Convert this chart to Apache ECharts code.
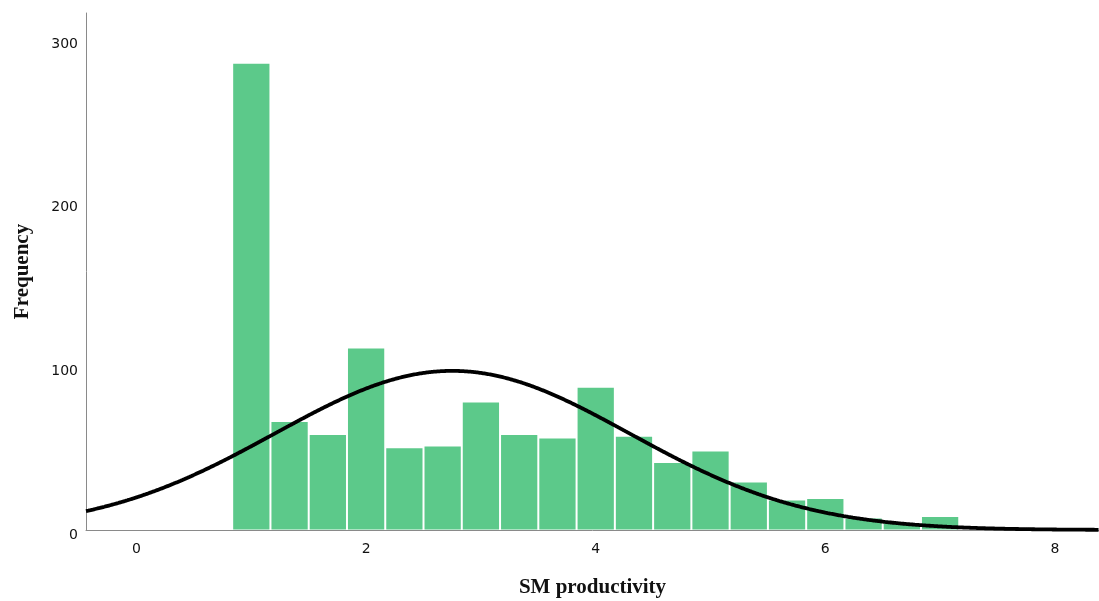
<!DOCTYPE html>
<html>
<head>
<meta charset="utf-8">
<title>SM productivity</title>
<script src="https://cdn.jsdelivr.net/npm/echarts@6/dist/echarts.min.js"></script>
<style>
  html, body { margin: 0; padding: 0; background: #ffffff; }
  #chart { width: 1099px; height: 601px; }
</style>
</head>
<body>
<div id="chart"></div>
<script>
// Histogram bins (bin centres) and their frequencies
const binCenters = [1, 4/3, 5/3, 2, 7/3, 8/3, 3, 10/3, 11/3, 4, 13/3, 14/3, 5, 16/3, 17/3, 6, 19/3, 20/3, 7];
const frequencies = [285, 66, 58, 111, 50, 51, 78, 58, 56, 87, 57, 41, 48, 29, 18, 19, 7, 4, 8];
const binWidth = 1 / 3;

// Fitted normal curve parameters
const curveMean = 2.75;
const curveSd = 1.545;
const sampleSize = 1130;

// Axis ticks
const xTicks = [0, 2, 4, 6, 8];
const yTicks = [0, 100, 200, 300];

const xMin = -0.44, xMax = 8.384;

const barData = binCenters.map((c, i) => [c - binWidth / 2, c + binWidth / 2, frequencies[i]]);

const curveData = [];
for (let x = xMin; x <= xMax + 1e-9; x += 0.02) {
  const z = (x - curveMean) / curveSd;
  const y = sampleSize * binWidth / (curveSd * Math.sqrt(2 * Math.PI)) * Math.exp(-0.5 * z * z);
  curveData.push([x, y]);
}

const chart = echarts.init(document.getElementById('chart'), null, { renderer: 'canvas' });

chart.setOption({
  animation: false,
  backgroundColor: '#ffffff',
  grid: { left: 86, right: 0, top: 13, bottom: 71, containLabel: false, outerBoundsMode: 'none' },
  xAxis: {
    type: 'value',
    min: xMin,
    max: xMax,
    name: 'SM productivity',
    nameLocation: 'middle',
    nameGap: 47,
    nameTextStyle: { fontFamily: 'Liberation Serif', fontWeight: 'bold', fontSize: 21, color: '#111' },
    axisLine: { show: true, onZero: false, lineStyle: { color: '#8a8a8a', width: 1 } },
    axisTick: { show: false },
    splitLine: { show: false },
    axisLabel: {
      customValues: xTicks,
      margin: 12,
      fontFamily: 'DejaVu Sans',
      fontSize: 14,
      color: '#111'
    }
  },
  yAxis: {
    type: 'value',
    min: 0,
    max: 316,
    interval: 100,
    name: 'Frequency',
    nameLocation: 'middle',
    nameGap: 53,
    nameRotate: 90,
    nameTextStyle: { fontFamily: 'Liberation Serif', fontWeight: 'bold', fontSize: 21, color: '#111' },
    axisLine: { show: true, onZero: false, lineStyle: { color: '#8a8a8a', width: 1 } },
    axisTick: { show: false },
    splitLine: { show: false },
    axisLabel: {
      customValues: yTicks,
      margin: 8,
      verticalAlign: 'top',
      lineHeight: 10,
      fontFamily: 'DejaVu Sans',
      fontSize: 14,
      color: '#111'
    }
  },
  series: [
    {
      type: 'custom',
      data: barData,
      encode: { x: [0, 1], y: 2 },
      renderItem: function (params, api) {
        const p0 = api.coord([api.value(0), 0]);
        const p1 = api.coord([api.value(1), api.value(2)]);
        return {
          type: 'rect',
          shape: { x: p0[0] + 1, y: p1[1], width: p1[0] - p0[0] - 2, height: p0[1] - p1[1] - 0.5 },
          style: { fill: '#5cc98a', stroke: null }
        };
      },
      z: 2
    },
    {
      type: 'line',
      data: curveData,
      showSymbol: false,
      smooth: true,
      clip: true,
      lineStyle: { color: '#000000', width: 3.8 },
      z: 3
    }
  ]
});
</script>
</body>
</html>
